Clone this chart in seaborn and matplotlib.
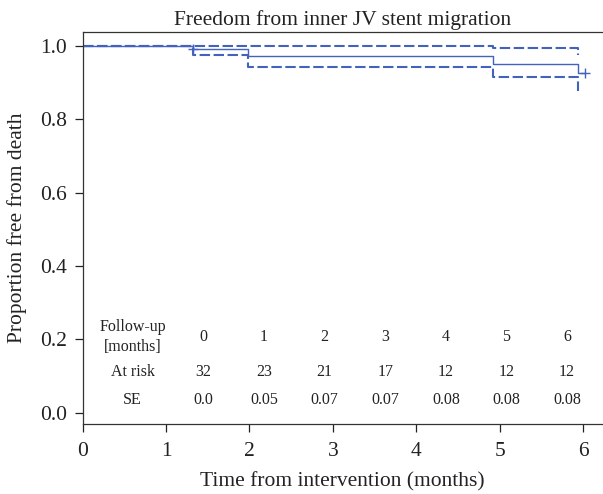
import numpy as np
import pandas as pd
import matplotlib
matplotlib.use("Agg")
import matplotlib.pyplot as plt
import seaborn as sns

# Kaplan-Meier estimate
times = [0, 1.32, 1.98, 4.92, 5.94, 6.02]
surv = [1.0, 0.991, 0.972, 0.952, 0.926, 0.926]
# confidence band
ci_times = [0, 1.32, 1.98, 4.92, 5.94]
ci_upper = [1.0, 1.0, 1.0, 0.994, 0.975]
ci_lower = [1.0, 0.975, 0.942, 0.916, 0.878]
# censored observations
cens_t = [1.32, 6.02]
cens_s = [0.991, 0.926]

# table under the curve
follow_up = ["0", "1", "2", "3", "4", "5", "6"]
at_risk = ["32", "23", "21", "17", "12", "12", "12"]
se = ["0.0", "0.05", "0.07", "0.07", "0.08", "0.08", "0.08"]

sns.set_style("ticks")
plt.rcParams["font.family"] = ["Liberation Serif", "DejaVu Serif"]
color = "#4262bd"
txt = "#222222"

fig = plt.figure(figsize=(6.03, 4.94), dpi=100)
ax = fig.add_axes([0.137, 0.141, 0.863, 0.794])

km = pd.DataFrame({"t": times, "s": surv})
band = pd.DataFrame({"t": ci_times, "lo": ci_lower, "hi": ci_upper})

sns.lineplot(data=km, x="t", y="s", drawstyle="steps-post", estimator=None,
             color=color, linewidth=1.0, ax=ax)
for col in ["hi", "lo"]:
    sns.lineplot(data=band, x="t", y=col, drawstyle="steps-post", estimator=None,
                 color=color, linewidth=1.5, linestyle=(0, (5, 1.7)), ax=ax)
ax.plot(cens_t, cens_s, linestyle="none", marker="+", markersize=7,
        markeredgewidth=1.0, color=color)

# at-risk table
col_x = np.linspace(1.45, 5.81, len(follow_up))
fs = 11.5
ax.text(0.60, 0.206, "Follow-up\n[months]", ha="center", va="center", fontsize=fs,
        linespacing=1.3, color=txt)
ax.text(0.60, 0.110, "At risk", ha="center", va="center", fontsize=fs, color=txt)
ax.text(0.60, 0.034, "SE", ha="center", va="center", fontsize=fs, color=txt)
for x, a, b, c in zip(col_x, follow_up, at_risk, se):
    ax.text(x, 0.206, a, ha="center", va="center", fontsize=fs, color=txt)
    ax.text(x, 0.110, b, ha="center", va="center", fontsize=fs, color=txt)
    ax.text(x, 0.034, c, ha="center", va="center", fontsize=fs, color=txt)

ax.set_xlim(0, 6.24)
ax.set_ylim(-0.032, 1.038)
ax.set_xticks(range(7))
ax.set_yticks([0.0, 0.2, 0.4, 0.6, 0.8, 1.0])
ax.set_yticklabels(["0.0", "0.2", "0.4", "0.6", "0.8", "1.0"])
ax.tick_params(labelsize=15.5, length=5.5, width=0.9, colors=txt)
ax.tick_params(axis="y", pad=6)
ax.tick_params(axis="x", pad=7)
ax.set_xlabel("Time from intervention (months)", fontsize=15.5, color=txt, labelpad=8)
ax.set_ylabel("Proportion free from death", fontsize=15.5, color=txt, labelpad=9)
ax.set_title("Freedom from inner JV stent migration", fontsize=15.5, color=txt, pad=5)
for side in ["left", "top", "bottom"]:
    ax.spines[side].set_color("#333333")
    ax.spines[side].set_linewidth(0.9)
    ax.spines[side].set_visible(True)
ax.spines["right"].set_visible(False)

fig.savefig("out.png", dpi=100)
